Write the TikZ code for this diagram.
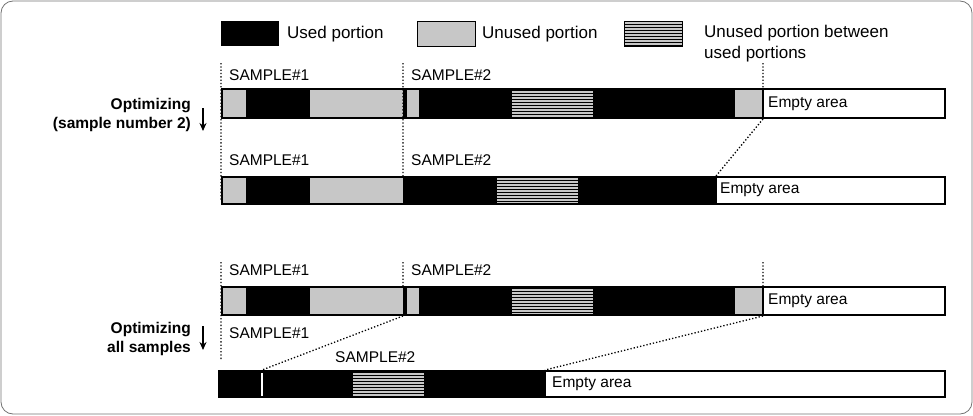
\documentclass[tikz,border=0pt]{standalone}
\usepackage{fontspec}
\setmainfont{Liberation Sans}
\usetikzlibrary{patterns,arrows.meta}
\tikzset{
  emptybox/.style={fill=white,draw=black,line width=1.4pt},
  guide/.style={dotted,line width=1.3pt},
  lbl/.style={anchor=west,font=\fontsize{15.5}{16}\selectfont,inner sep=0pt},
  leglbl/.style={anchor=west,font=\fontsize{17}{18}\selectfont,inner sep=0pt},
  optlbl/.style={anchor=east,align=right,font=\fontsize{15.5}{19}\bfseries\selectfont,inner sep=0pt},
}
\newcommand{\fullbar}[2]{% y-top, y-bottom
  \fill[black] (221,#1) rectangle (946,#2);
  \fill[black!22] (223,#1+2) rectangle (246,#2-2);
  \fill[black!22] (310,#1+2) rectangle (403,#2-2);
  \fill[black!22] (407,#1+2) rectangle (419,#2-2);
  \fill[black!22] (512,#1+2) rectangle (593,#2-2);
  \fill[pattern={horizontal lines},pattern color=black] (512,#1+2) rectangle (593,#2-2);
  \fill[black!22] (735,#1+2) rectangle (763,#2-2);
  \draw[emptybox] (763,#1+1) rectangle (945,#2-1);
  \node[lbl] at (768,#1/2+#2/2) {Empty area};
}
\begin{document}
\begin{tikzpicture}[x=1pt,y=-1pt]
\useasboundingbox (0,0) rectangle (973,415);
\draw[black!55,rounded corners=12pt,line width=0.8pt] (1,1) rectangle (972,414);
% legend
\fill[black] (221,21) rectangle (279,46);
\node[leglbl] (leg1) at (287,34) {Used portion};
\draw[fill=black!22] (417,21) rectangle (475,46);
\node[leglbl] (leg2) at (482,34) {Unused portion};
\draw[fill=black!22] (624,21) rectangle (682,46);
\fill[pattern={horizontal lines},pattern color=black] (624,21) rectangle (682,46);
\node[leglbl,align=left,font=\fontsize{17}{21}\selectfont] (leg3) at (704,44) {Unused portion between\\used portions};
% first pair
\fullbar{88}{119}
\fill[black] (221,176) rectangle (946,205);
\fill[black!22] (223,178) rectangle (246,203);
\fill[black!22] (310,178) rectangle (403,203);
\fill[black!22] (497,178) rectangle (578,203);
\fill[pattern={horizontal lines},pattern color=black] (497,178) rectangle (578,203);
\draw[emptybox] (716,177) rectangle (945,204);
\node[lbl] at (720,190) {Empty area};
\coordinate (a1) at (221,63); \coordinate (a2) at (221,200);
\coordinate (b1) at (403,63); \coordinate (b2) at (403,176);
\coordinate (c1) at (763,63); \coordinate (c2) at (763,88);
\coordinate (c3) at (763,119); \coordinate (c4) at (716,176);
\draw[guide] (a1) -- (a2) (b1) -- (b2) (c1) -- (c2) (c3) -- (c4);
\foreach \y in {75,160} {
  \node[lbl] at (229,\y) {SAMPLE\#1};
  \node[lbl] at (411,\y) {SAMPLE\#2};
}
\node[optlbl] (opt1) at (191,115) {Optimizing\\(sample number 2)};
\coordinate (p1) at (203,108); \coordinate (p2) at (203,131);
\draw[-{Stealth[length=8pt,width=7pt]},line width=1.6pt] (p1) -- (p2);
% second pair
\fullbar{286}{316}
\fill[black] (218,370) rectangle (946,398);
\draw[white,line width=2pt] (262,373) -- (262,396);
\fill[black!22] (353,372) rectangle (424,396);
\fill[pattern={horizontal lines},pattern color=black] (353,372) rectangle (424,396);
\draw[emptybox] (545,371) rectangle (945,397);
\node[lbl] at (552,384) {Empty area};
\coordinate (d1) at (221,262); \coordinate (d2) at (221,360);
\coordinate (e1) at (403,262); \coordinate (e2) at (403,286);
\coordinate (f1) at (763,262); \coordinate (f2) at (763,286);
\coordinate (e3) at (403,316); \coordinate (e4) at (262,370);
\coordinate (f3) at (763,316); \coordinate (f4) at (545,370);
\draw[guide] (d1) -- (d2) (e1) -- (e2) (f1) -- (f2) (e3) -- (e4) (f3) -- (f4);
\node[lbl] at (229,270) {SAMPLE\#1};
\node[lbl] at (411,270) {SAMPLE\#2};
\node[lbl] at (229,333) {SAMPLE\#1};
\node[lbl] at (335,357) {SAMPLE\#2};
\node[optlbl] (opt2) at (191,339) {Optimizing\\all samples};
\coordinate (q1) at (203,326); \coordinate (q2) at (203,350);
\draw[-{Stealth[length=8pt,width=7pt]},line width=1.6pt] (q1) -- (q2);
\end{tikzpicture}
\end{document}
